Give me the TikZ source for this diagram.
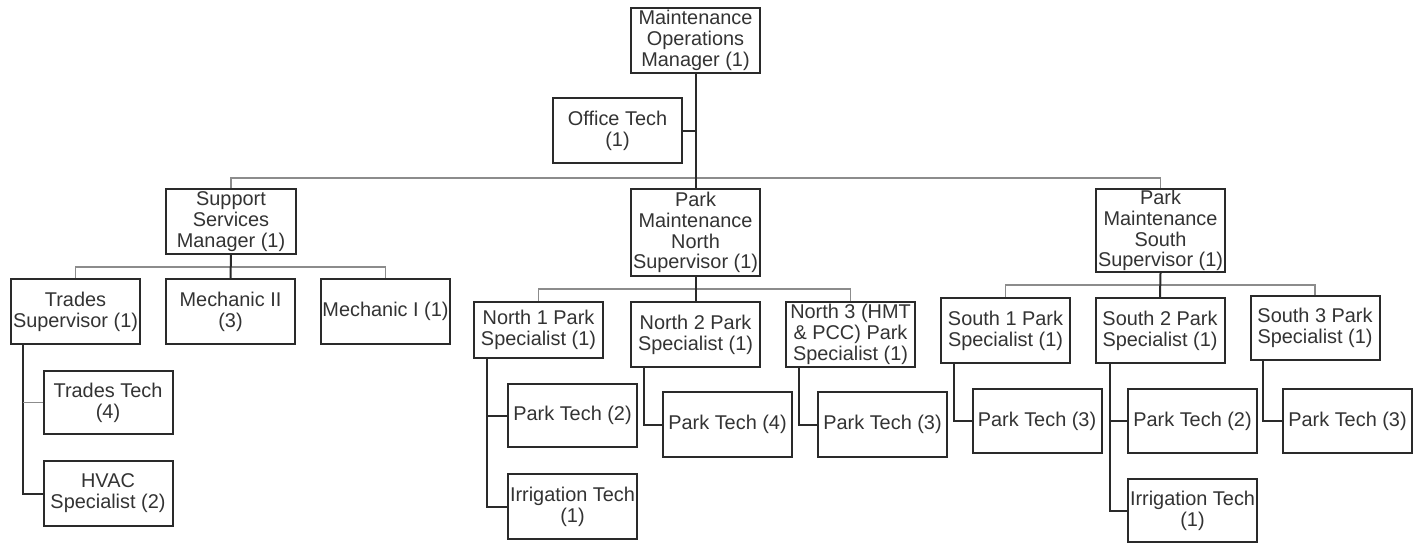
\documentclass[tikz,border=0pt]{standalone}
\usepackage{fontspec}
\setmainfont{Liberation Sans}
\definecolor{ink}{HTML}{2A2A2A}
\definecolor{txt}{HTML}{333333}
\definecolor{bus}{HTML}{8C8C8C}
\begin{document}
\begin{tikzpicture}[x=0.5pt,y=-0.5pt,
  bx/.style={draw=ink, line width=1pt, fill=white, minimum width=64.5pt,
    inner sep=0pt, align=center, text=txt,
    font=\fontsize{9.95}{10.4}\selectfont},
  thick link/.style={draw=ink, line width=1pt},
  thin link/.style={draw=bus, line width=0.8pt}]
\useasboundingbox[fill=white] (0,0) rectangle (1418,543);

% top level
\node[bx, minimum height=32.5pt] (mom) at (695.5,40.5) {Maintenance\\Operations\\Manager (1)};
\node[bx, minimum height=32.5pt] (office) at (617.5,130.5) {Office Tech\\(1)};
\node[bx, minimum height=32.5pt, minimum width=65pt] (ssm) at (231,221.5) {Support\\Services\\Manager (1)};
\node[bx, minimum height=43.5pt] (pmn) at (695.5,232.5) {Park\\Maintenance\\North\\Supervisor (1)};
\node[bx, minimum height=41.5pt] (pms) at (1160.5,230.5) {Park\\Maintenance\\South\\Supervisor (1)};

% support services
\node[bx, minimum height=32.5pt] (trsup) at (75.5,311.5) {Trades\\Supervisor (1)};
\node[bx, minimum height=32.5pt] (mech2) at (230.5,311.5) {Mechanic II\\(3)};
\node[bx, minimum height=32.5pt] (mech1) at (385.5,311.5) {Mechanic I (1)};
\node[bx, minimum height=31.5pt] (trtech) at (108,402.5) {Trades Tech\\(4)};
\node[bx, minimum height=32.5pt] (hvac) at (108,493.5) {HVAC\\Specialist (2)};

% north
\node[bx, minimum height=28pt] (n1) at (538.5,330) {North 1 Park\\Specialist (1)};
\node[bx, minimum height=32.5pt] (n2) at (695.5,334.5) {North 2 Park\\Specialist (1)};
\node[bx, minimum height=32.5pt] (n3) at (850.5,334.5) {North 3 (HMT\\\& PCC) Park\\Specialist (1)};
\node[bx, minimum height=31.5pt] (n1pt) at (572.5,415.5) {Park Tech (2)};
\node[bx, minimum height=32.5pt] (n1irr) at (572.5,506.5) {Irrigation Tech\\(1)};
\node[bx, minimum height=32.5pt] (n2pt) at (727.5,424.5) {Park Tech (4)};
\node[bx, minimum height=32.5pt] (n3pt) at (882.5,424.5) {Park Tech (3)};

% south
\node[bx, minimum height=32.5pt] (s1) at (1005.5,330.5) {South 1 Park\\Specialist (1)};
\node[bx, minimum height=32.5pt] (s2) at (1160,330.5) {South 2 Park\\Specialist (1)};
\node[bx, minimum height=32pt] (s3) at (1315,328) {South 3 Park\\Specialist (1)};
\node[bx, minimum height=32pt] (s1pt) at (1037,421) {Park Tech (3)};
\node[bx, minimum height=32pt] (s2pt) at (1192.5,421) {Park Tech (2)};
\node[bx, minimum height=31.5pt] (s2irr) at (1192.5,510.5) {Irrigation Tech\\(1)};
\node[bx, minimum height=32pt] (s3pt) at (1347.5,421) {Park Tech (3)};

% bus / spine coordinates
\coordinate (topbus) at (696,178);
\coordinate (ssbus) at (231,267);
\coordinate (nbus) at (696,289);
\coordinate (sbus) at (1161,285);
\coordinate (trs) at (23,0);
\coordinate (n1s) at (487,0);
\coordinate (n2s) at (644,0);
\coordinate (n3s) at (799,0);
\coordinate (s1s) at (954,0);
\coordinate (s2s) at (1110,0);
\coordinate (s3s) at (1263,0);

% top connectors
\draw[thin link] (ssm.north) -- (ssm.north |- topbus) -- (pms.north |- topbus) -- (pms.north);
\draw[thick link] (mom.south) -- (pmn.north);
\draw[thick link] (office.east) -- (office.east -| mom.south);

% support services connectors
\draw[thin link] (trsup.north) -- (trsup.north |- ssbus) -- (mech1.north |- ssbus) -- (mech1.north);
\draw[thick link] (ssm.south) -- (mech2.north);
\draw[thick link] (trsup.south -| trs) |- (hvac.west);
\draw[thin link] (trtech.west) -- (trtech.west -| trs);

% north connectors
\draw[thin link] (n1.north) -- (n1.north |- nbus) -- (n3.north |- nbus) -- (n3.north);
\draw[thick link] (pmn.south) -- (n2.north);
\draw[thick link] (n1.south -| n1s) |- (n1irr.west);
\draw[thick link] (n1pt.west) -- (n1pt.west -| n1s);
\draw[thick link] (n2.south -| n2s) |- (n2pt.west);
\draw[thick link] (n3.south -| n3s) |- (n3pt.west);

% south connectors
\draw[thin link] (s1.north) -- (s1.north |- sbus) -- (s3.north |- sbus) -- (s3.north);
\draw[thick link] (pms.south) -- (s2.north);
\draw[thick link] (s1.south -| s1s) |- (s1pt.west);
\draw[thick link] (s2.south -| s2s) |- (s2irr.west);
\draw[thick link] (s2pt.west) -- (s2pt.west -| s2s);
\draw[thick link] (s3.south -| s3s) |- (s3pt.west);
\end{tikzpicture}
\end{document}
